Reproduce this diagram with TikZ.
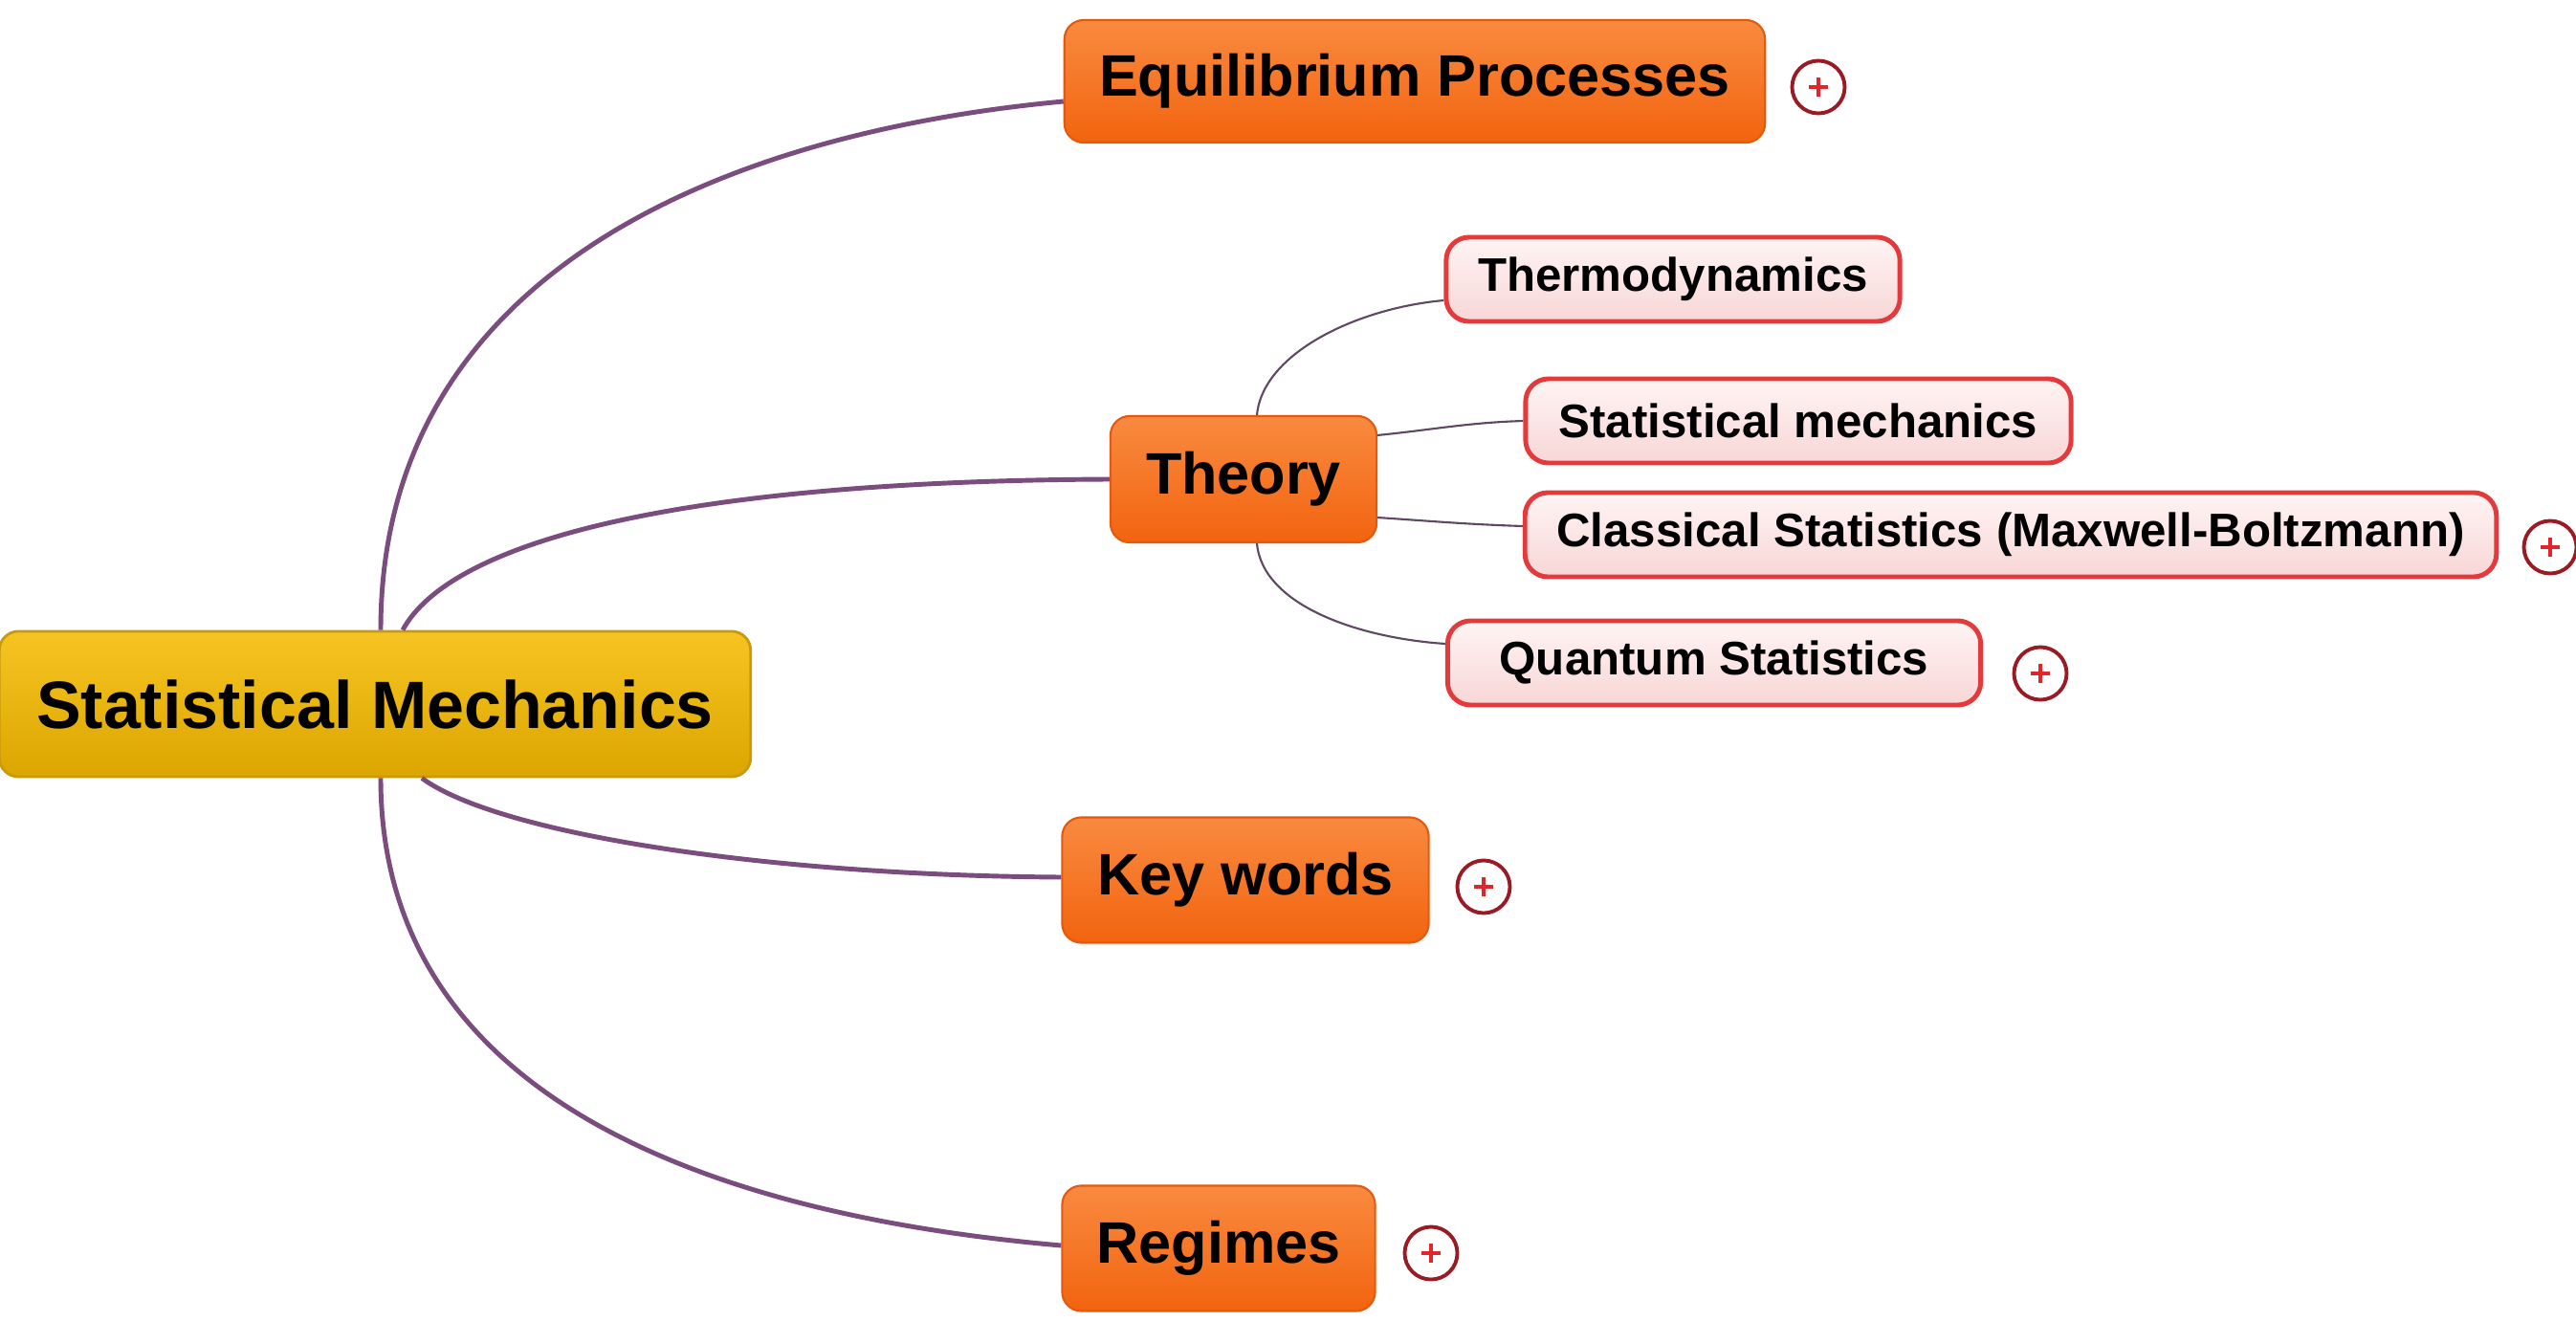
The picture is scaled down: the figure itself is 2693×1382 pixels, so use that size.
\documentclass[tikz,border=0pt]{standalone}
\usepackage{fontspec}
\setmainfont{Liberation Sans}
\usetikzlibrary{calc}

\definecolor{rootTop}{HTML}{F6C422}
\definecolor{rootBot}{HTML}{DCA600}
\definecolor{rootLine}{HTML}{C99A10}
\definecolor{orTop}{HTML}{F98A40}
\definecolor{orBot}{HTML}{F2640F}
\definecolor{orLine}{HTML}{E35A0E}
\definecolor{pkTop}{HTML}{FFF4F4}
\definecolor{pkBot}{HTML}{F8D6D6}
\definecolor{pkLine}{HTML}{E53A3C}
\definecolor{linkMain}{HTML}{7B4C7E}
\definecolor{linkSub}{HTML}{5F4862}
\definecolor{plusRing}{HTML}{9B1B24}
\definecolor{plusMark}{HTML}{E0262A}

\tikzset{
  rootbox/.style={rounded corners=0.2cm, draw=rootLine, line width=0.8pt,
    top color=rootTop, bottom color=rootBot, minimum width=7.85cm,
    minimum height=1.52cm, inner sep=0pt, font=\fontsize{19.9}{23}\selectfont\bfseries},
  topicbox/.style={rounded corners=0.2cm, draw=orLine, line width=0.6pt,
    top color=orTop, bottom color=orBot, minimum height=1.3cm, inner sep=0pt,
    font=\fontsize{17.4}{20}\selectfont\bfseries},
  subbox/.style={rounded corners=0.24cm, draw=pkLine, line width=1.4pt,
    top color=pkTop, bottom color=pkBot, minimum height=0.88cm, inner sep=0pt,
    font=\fontsize{14}{16}\selectfont\bfseries},
  plusicon/.style={circle, draw=plusRing, line width=1.1pt, fill=white,
    minimum size=0.55cm, inner sep=0pt,
    path picture={\draw[plusMark, line width=1.3pt]
      ([xshift=-0.1cm]path picture bounding box.center) -- ([xshift=0.1cm]path picture bounding box.center)
      ([yshift=-0.1cm]path picture bounding box.center) -- ([yshift=0.1cm]path picture bounding box.center);}},
  mainlink/.style={draw=linkMain, line width=1.4pt},
  sublink/.style={draw=linkSub, line width=0.6pt}
}

\begin{document}
\begin{tikzpicture}[x=0.01cm, y=-0.01cm]
  \useasboundingbox[fill=white] (0,0) rectangle (2693,1382);

  % central topic
  \node[rootbox] (root) at (392,736) {Statistical Mechanics};

  % main branches
  \node[topicbox, minimum width=7.32cm, minimum height=1.28cm] (eqp) at (1479,85) {Equilibrium Processes};
  \node[topicbox, minimum width=2.78cm, minimum height=1.32cm] (theory) at (1300,501) {Theory};
  \node[topicbox, minimum width=3.83cm, minimum height=1.31cm] (keyw) at (1302,920) {Key words};
  \node[topicbox, minimum width=3.27cm, minimum height=1.31cm] (regimes) at (1274,1305) {Regimes};

  % sub-topics of Theory
  \node[subbox, minimum width=4.74cm] (thermo) at (1749,292) {Thermodynamics};
  \node[subbox, minimum width=5.70cm] (statmech) at (1880,440) {Statistical mechanics};
  \node[subbox, minimum width=10.15cm] (classical) at (2102,559) {Classical Statistics (Maxwell-Boltzmann)};
  \node[subbox, minimum width=5.57cm] (quantum) at (1792,693) {Quantum Statistics};

  % collapsed-branch markers
  \node[plusicon] (eqpPlus) at (1901,91) {};
  \node[plusicon] (classPlus) at (2666,572) {};
  \node[plusicon] (quantPlus) at (2133,704) {};
  \node[plusicon] (keywPlus) at (1551,927) {};
  \node[plusicon] (regPlus) at (1496,1310) {};

  % main connectors
  \draw[mainlink] ([xshift=0.06cm]root.north) .. controls +(0,-380) and +(-345,32) .. ([yshift=-0.21cm]eqp.west);
  \draw[mainlink] ([xshift=0.29cm]root.north) .. controls +(49,-90) and +(-461,2) .. (theory.west);
  \draw[mainlink] ([xshift=0.49cm]root.south) .. controls +(79,58) and +(-311,-2) .. ([yshift=0.03cm]keyw.west);
  \draw[mainlink] ([xshift=0.06cm]root.south) .. controls +(0,345) and +(-345,-30) .. ([yshift=0.03cm]regimes.west);

  % Theory connectors
  \draw[sublink] ([xshift=0.14cm]theory.north) .. controls +(6,-65) and +(-90,8) .. ([yshift=-0.22cm]thermo.west);
  \draw[sublink] ([yshift=0.46cm]theory.east) .. controls +(60,-6) and +(-60,2) .. (statmech.west);
  \draw[sublink] ([yshift=-0.4cm]theory.east) .. controls +(60,4) and +(-60,-2) .. ([yshift=0.09cm]classical.west);
  \draw[sublink] ([xshift=0.14cm]theory.south) .. controls +(6,65) and +(-90,-6) .. ([yshift=0.2cm]quantum.west);
\end{tikzpicture}
\end{document}
